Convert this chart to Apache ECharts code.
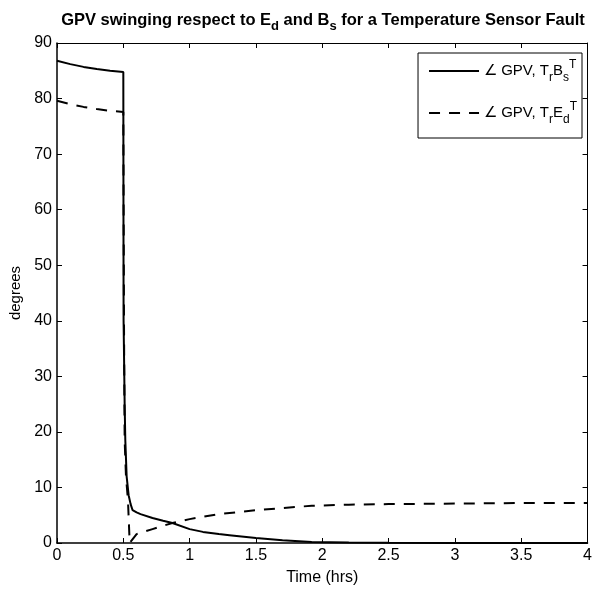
<!DOCTYPE html>
<html lang="en">

<head>
    <meta charset="UTF-8">
    <title>GPV swinging</title>
    <script src="https://cdn.jsdelivr.net/npm/echarts@6/dist/echarts.min.js"></script>
    <style>
        html, body { margin: 0; padding: 0; background: #fff; }
        #chart { width: 595px; height: 597px; }
    </style>
</head>

<body>
    <div id="chart"></div>
    <script type="text/javascript">
        // time (hrs) and angle (degrees)
        var timeB = [0, 0.1, 0.2, 0.3, 0.4, 0.5, 0.502, 0.51, 0.515, 0.525, 0.54, 0.555, 0.57, 0.6, 0.63, 0.72, 0.8, 0.87, 1.0, 1.1, 1.22, 1.3, 1.5, 1.7, 1.92, 2.2, 2.5, 3.0, 3.5, 4.0];
        var angleB = [86.8, 86.2, 85.7, 85.3, 85.0, 84.8, 40, 25, 18.5, 12, 8.6, 7.0, 5.9, 5.5, 5.2, 4.5, 4.0, 3.6, 2.5, 2.0, 1.6, 1.4, 0.9, 0.5, 0.2, 0.1, 0.04, 0.02, 0.01, 0];
        var timeE = [0, 0.1, 0.2, 0.3, 0.4, 0.5, 0.505, 0.51, 0.52, 0.535, 0.548, 0.6, 0.72, 0.8, 0.87, 1.0, 1.22, 1.5, 1.7, 1.92, 2.2, 2.5, 3.0, 3.5, 4.0];
        var angleE = [79.6, 79.0, 78.5, 78.1, 77.8, 77.6, 40, 18.5, 12, 7.7, 0, 1.6, 2.5, 3.1, 3.6, 4.3, 5.2, 5.9, 6.3, 6.7, 6.9, 7.0, 7.1, 7.2, 7.2];

        function pairs(t, v) {
            var arr = [];
            for (var i = 0; i < t.length; i++) {
                arr.push([t[i], v[i]]);
            }
            return arr;
        }

        var font = 'Liberation Sans, Arial, sans-serif';
        var myChart = echarts.init(document.getElementById('chart'));

        var option = {
            animation: false,
            backgroundColor: '#fff',
            textStyle: { fontFamily: font, color: '#000' },
            title: {
                text: '{t|GPV swinging respect to E}{s|d}{t| and B}{s|s}{t| for a Temperature Sensor Fault}',
                left: 318,
                textAlign: 'center',
                top: 3,
                textStyle: {
                    rich: {
                        t: { fontFamily: font, fontSize: 16.5, fontWeight: 'bold', color: '#000' },
                        s: { fontFamily: font, fontSize: 13, fontWeight: 'bold', color: '#000', padding: [12, 0, 0, 0] }
                    }
                }
            },
            legend: {
                orient: 'vertical',
                right: 13,
                top: 53,
                itemWidth: 50,
                itemHeight: 14,
                itemGap: 17,
                padding: [6, 5, 12, 10],
                borderColor: '#000',
                borderWidth: 1,
                backgroundColor: '#fff',
                itemStyle: { opacity: 0 },
                data: ['B', 'E'],
                formatter: function (name) {
                    if (name === 'B') {
                        return '{a|∠ GPV, T}{s|r}{a|B}{s|s}{p|T}';
                    }
                    return '{a|∠ GPV, T}{s|r}{a|E}{s|d}{p|T}';
                },
                textStyle: {
                    rich: {
                        a: { fontFamily: font, fontSize: 15, color: '#000' },
                        s: { fontFamily: font, fontSize: 12, color: '#000', padding: [14, 0, 0, 0] },
                        p: { fontFamily: font, fontSize: 12, color: '#000', padding: [0, 0, 12, 0] }
                    }
                }
            },
            grid: { left: 56, right: 3, top: 43, bottom: 54 },
            xAxis: [{
                type: 'value',
                min: 0,
                max: 4,
                interval: 0.5,
                name: 'Time (hrs)',
                nameLocation: 'middle',
                nameGap: 27,
                nameTextStyle: { fontFamily: font, fontSize: 16, color: '#000' },
                axisLine: { onZero: false, lineStyle: { color: '#000', width: 1.5 } },
                axisTick: { inside: true, length: 5, lineStyle: { color: '#000' } },
                axisLabel: { fontFamily: font, fontSize: 16, color: '#000', margin: 5 },
                splitLine: { show: false }
            }, {
                type: 'value',
                position: 'top',
                min: 0,
                max: 4,
                interval: 0.5,
                axisLine: { onZero: false, lineStyle: { color: '#000', width: 1 } },
                axisTick: { inside: true, length: 5, lineStyle: { color: '#000' } },
                axisLabel: { show: false },
                splitLine: { show: false }
            }],
            yAxis: [{
                type: 'value',
                min: 0,
                max: 90,
                interval: 10,
                name: 'degrees',
                nameLocation: 'middle',
                nameGap: 34,
                nameTextStyle: { fontFamily: font, fontSize: 15, color: '#000' },
                axisLine: { show: true, onZero: false, lineStyle: { color: '#000', width: 1.5 } },
                axisTick: { show: true, inside: true, length: 5, lineStyle: { color: '#000' } },
                axisLabel: { fontFamily: font, fontSize: 16, color: '#000', margin: 5 },
                splitLine: { show: false }
            }, {
                type: 'value',
                position: 'right',
                min: 0,
                max: 90,
                interval: 10,
                axisLine: { show: true, onZero: false, lineStyle: { color: '#000', width: 1 } },
                axisTick: { show: true, inside: true, length: 5, lineStyle: { color: '#000' } },
                axisLabel: { show: false },
                splitLine: { show: false }
            }],
            series: [{
                name: 'B',
                type: 'line',
                data: pairs(timeB, angleB),
                showSymbol: false,
                symbol: 'none',
                lineStyle: { color: '#000', width: 2 },
                itemStyle: { color: '#000' }
            }, {
                name: 'E',
                type: 'line',
                data: pairs(timeE, angleE),
                showSymbol: false,
                symbol: 'none',
                lineStyle: { color: '#000', width: 2, type: [11, 9] },
                itemStyle: { color: '#000' }
            }]
        };
        myChart.setOption(option);
    </script>
</body>

</html>
